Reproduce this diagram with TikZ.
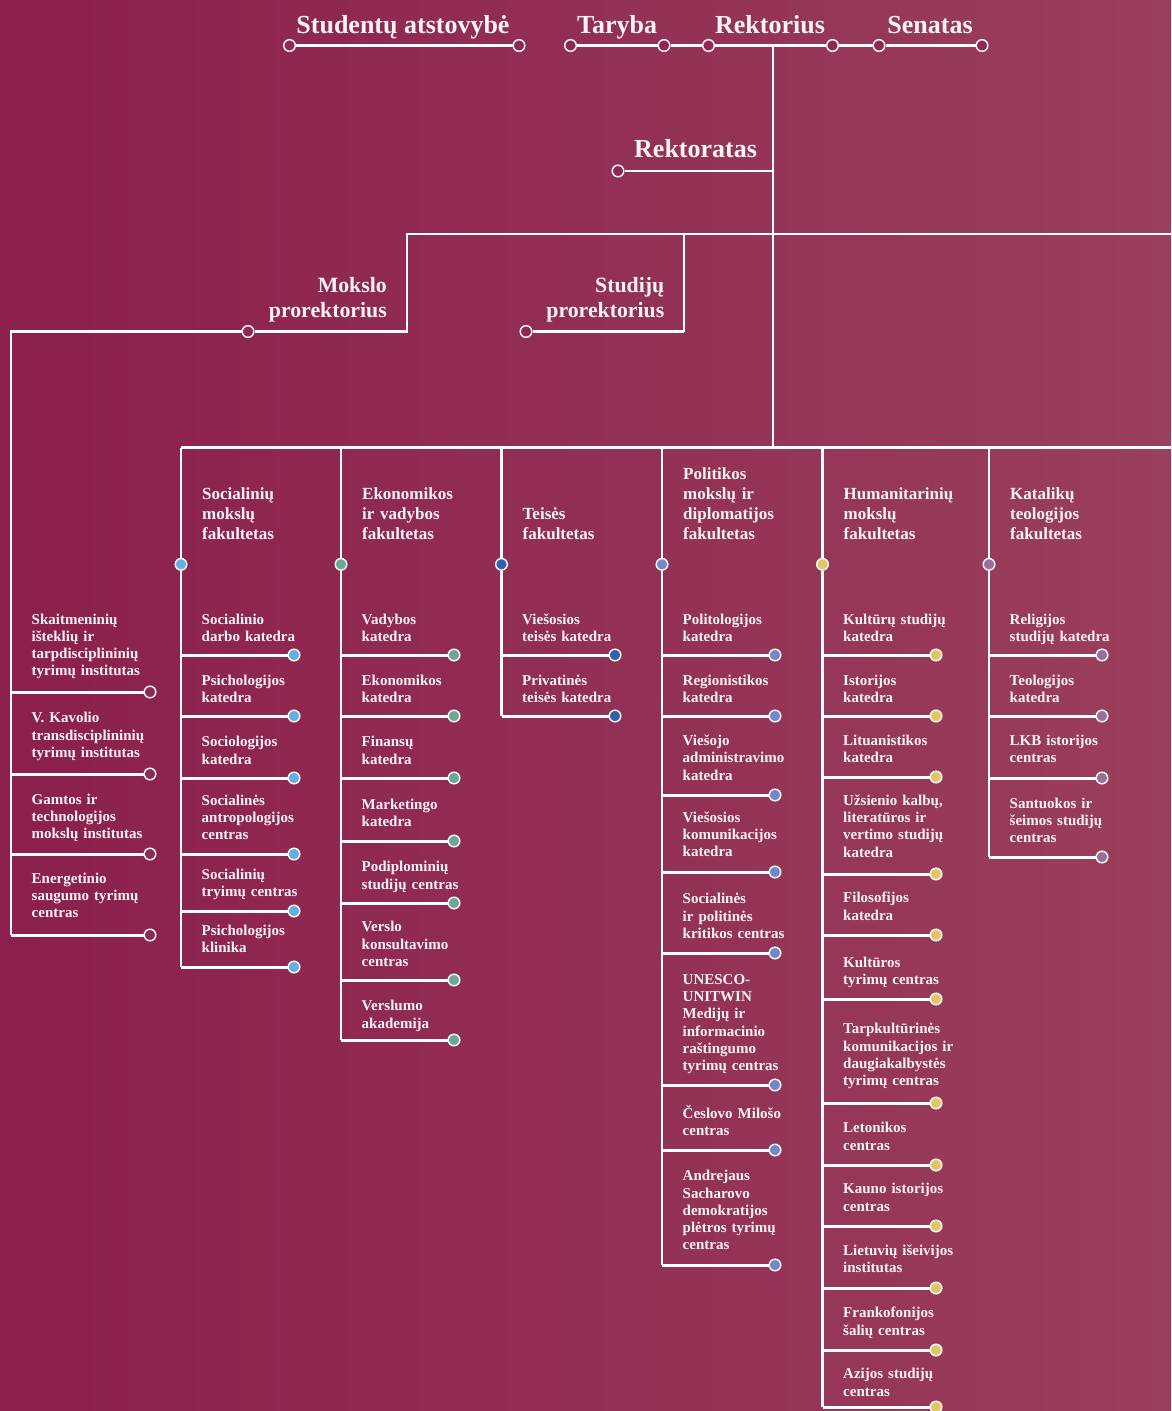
\documentclass[tikz,border=0pt]{standalone}
\usepackage{fontspec}
\setmainfont{Liberation Serif}
\definecolor{bgL}{HTML}{8B1F4D}
\definecolor{bgR}{HTML}{9A3F5C}
\definecolor{cHole}{HTML}{8F2954}
\definecolor{cText}{HTML}{FAF3F3}
\definecolor{cBlue}{HTML}{63AEE2}
\definecolor{cGreen}{HTML}{6BA993}
\definecolor{cNavy}{HTML}{2E62AC}
\definecolor{cPeri}{HTML}{7289C9}
\definecolor{cYellow}{HTML}{E2C662}
\definecolor{cPurple}{HTML}{98709A}
\tikzset{
  ln/.style={draw=white, line width=2.2pt, line join=miter},
  sepln/.style={draw=white, line width=3pt},
  dot/.style={circle, draw=white, line width=1.4pt, minimum size=11.6pt, inner sep=0pt},
  hole/.style={dot, fill=cHole},
  bluedot/.style={dot, fill=cBlue},
  greendot/.style={dot, fill=cGreen},
  navydot/.style={dot, fill=cNavy},
  peridot/.style={dot, fill=cPeri},
  yellowdot/.style={dot, fill=cYellow},
  purpledot/.style={dot, fill=cPurple},
  itemtext/.style={text=cText, font=\bfseries\fontsize{15}{17.3}\selectfont, inner sep=0pt, text width=160pt, align=left},
  factext/.style={text=cText, font=\bfseries\fontsize{17}{19.7}\selectfont, inner sep=0pt, text width=160pt, align=left},
  toptext/.style={text=cText, font=\bfseries\fontsize{26}{30}\selectfont, inner sep=0pt},
  protext/.style={text=cText, font=\bfseries\fontsize{21.8}{25}\selectfont, inner sep=0pt, text width=200pt, align=right},
}
% items: #1 id, #2 line x, #3 circle x, #4 dot style, #5 list sep/baseline/text
\newcommand{\orgitems}[5]{%
  \foreach \sy/\by/\txt [count=\i] in {#5} {
    \coordinate (s#1-\i) at (#2,\sy);
    \node[itemtext, anchor=base west] (t#1-\i) at ({#2+20.5},\by) {\txt};
    \node[#4] (k#1-\i) at (#3,\sy) {};
    \draw[sepln] (s#1-\i) -- (k#1-\i);
  }%
}
% faculty: #1 id, #2 x, #3 dot style, #4 last index, #5 title baseline, #6 title
\newcommand{\orgfac}[6]{%
  \coordinate (ftop#1) at (#2,447.5);
  \node[#3] (fd#1) at (#2,564.3) {};
  \node[factext, anchor=base west] (ft#1) at ({#2+21},#5) {#6};
  \draw[ln] (ftop#1) -- (fd#1) -- (s#1-#4);
}
\begin{document}
\begin{tikzpicture}[x=1pt, y=-1pt]
\shade[left color=bgL, right color=bgR] (0,0) rectangle (1171,1411);
\useasboundingbox (0,0) rectangle (1171,1411);

% ---- top row
\node[toptext, anchor=base] (stud) at (403,33) {Studentų atstovybė};
\node[toptext, anchor=base] (tar) at (617,33) {Taryba};
\node[toptext, anchor=base] (rek) at (770,33) {Rektorius};
\node[toptext, anchor=base] (sen) at (930,33) {Senatas};
\node[hole] (st1) at (289.5,45.5) {};
\node[hole] (st2) at (519,45.5) {};
\node[hole] (ta1) at (570.5,45.5) {};
\node[hole] (ta2) at (664,45.5) {};
\node[hole] (re1) at (708.5,45.5) {};
\node[hole] (re2) at (832.5,45.5) {};
\node[hole] (se1) at (879,45.5) {};
\node[hole] (se2) at (982,45.5) {};
\draw[sepln] (st1) -- (st2);
\draw[sepln] (ta1) -- (ta2) -- (re1) -- (re2) -- (se1) -- (se2);

% ---- rector vertical and Rektoratas
\coordinate (rj) at (773,45.5);
\coordinate (rk) at (773,171);
\coordinate (rp) at (773,234);
\coordinate (rf) at (773,447.5);
\draw[ln] (rj) -- (rk) -- (rp) -- (rf);
\node[toptext, anchor=base west] (rektt) at (634,157) {Rektoratas};
\node[hole] (rkd) at (618,171) {};
\draw[ln, line width=2.6pt] (rkd) -- (rk);

% ---- prorektoriai
\coordinate (pR) at (1171,234);
\coordinate (m1) at (407,234);
\coordinate (m2) at (407,331.5);
\coordinate (m3) at (11,331.5);
\node[hole] (mdot) at (248,331.5) {};
\node[protext, anchor=base east] (mtxt) at (387,292.5) {Mokslo\\prorektorius};
\coordinate (sv1) at (684,234);
\coordinate (sv2) at (684,331.5);
\node[hole] (sdot) at (526,331.5) {};
\node[protext, anchor=base east] (stxt) at (664.5,292.5) {Studijų\\prorektorius};
\draw[ln] (pR) -- (m1) -- (m2) -- (mdot);
\draw[ln] (sv1) -- (sv2);
\draw[sepln] (sv2) -- (sdot);

% ---- institutes (left column)
\orgitems{a}{11}{150}{hole}{
  692/624/{Skaitmeninių\\išteklių ir\\tarpdisciplininių\\tyrimų institutas},
  774/722.7/{V. Kavolio\\transdisciplininių\\tyrimų institutas},
  854/804/{Gamtos ir\\technologijos\\mokslų institutas},
  935/883.3/{Energetinio\\saugumo tyrimų\\centras}}
\draw[ln] (mdot) -- (m3) -- (sa-4);

% ---- faculties
\coordinate (fR) at (1171,447.5);
\draw[ln] (fR) -- (181,447.5);

\orgitems{b}{181}{294}{bluedot}{
  655/624/{Socialinio\\darbo katedra},
  716/685/{Psichologijos\\katedra},
  778/746.7/{Sociologijos\\katedra},
  854/805/{Socialinės\\antropologijos\\centras},
  911/879.3/{Socialinių\\tryimų centras},
  967/935.5/{Psichologijos\\klinika}}
\orgfac{b}{181}{bluedot}{6}{499.6}{Socialinių\\mokslų\\fakultetas}

\orgitems{c}{341}{454}{greendot}{
  655/624/{Vadybos\\katedra},
  716/685/{Ekonomikos\\katedra},
  778/746.7/{Finansų\\katedra},
  841/809/{Marketingo\\katedra},
  903/871.7/{Podiplominių\\studijų centras},
  980/931.7/{Verslo\\konsultavimo\\centras},
  1040/1010.7/{Verslumo\\akademija}}
\orgfac{c}{341}{greendot}{7}{499.6}{Ekonomikos\\ir vadybos\\fakultetas}

\orgitems{d}{501.5}{615}{navydot}{
  655/624/{Viešosios\\teisės katedra},
  716/685/{Privatinės\\teisės katedra}}
\orgfac{d}{501.5}{navydot}{2}{519.3}{Teisės\\fakultetas}

\orgitems{e}{662}{775}{peridot}{
  655/624/{Politologijos\\katedra},
  716/685/{Regionistikos\\katedra},
  795/745.5/{Viešojo\\administravimo\\katedra},
  872/822.3/{Viešosios\\komunikacijos\\katedra},
  953/903.7/{Socialinės\\ir politinės\\kritikos centras},
  1085/984.3/{UNESCO-\\UNITWIN\\Medijų ir\\informacinio\\raštingumo\\tyrimų centras},
  1150/1118/{Česlovo Milošo\\centras},
  1265/1180.7/{Andrejaus\\Sacharovo\\demokratijos\\plėtros tyrimų\\centras}}
\orgfac{e}{662}{peridot}{8}{479.9}{Politikos\\mokslų ir\\diplomatijos\\fakultetas}

\orgitems{f}{822.5}{936}{yellowdot}{
  655/624/{Kultūrų studijų\\katedra},
  716/685/{Istorijos\\katedra},
  777/745.5/{Lituanistikos\\katedra},
  874/805.3/{Užsienio kalbų,\\literatūros ir\\vertimo studijų\\katedra},
  935/902.7/{Filosofijos\\katedra},
  999/967/{Kultūros\\tyrimų centras},
  1103/1033.7/{Tarpkultūrinės\\komunikacijos ir\\daugiakalbystės\\tyrimų centras},
  1165/1132.7/{Letonikos\\centras},
  1226/1193.7/{Kauno istorijos\\centras},
  1288/1255.3/{Lietuvių išeivijos\\institutas},
  1350/1317.7/{Frankofonijos\\šalių centras},
  1407/1378.7/{Azijos studijų\\centras}}
\orgfac{f}{822.5}{yellowdot}{12}{499.6}{Humanitarinių\\mokslų\\fakultetas}

\orgitems{g}{989}{1102}{purpledot}{
  655/624/{Religijos\\studijų katedra},
  716/685/{Teologijos\\katedra},
  778/745.5/{LKB istorijos\\centras},
  857/808.3/{Santuokos ir\\šeimos studijų\\centras}}
\orgfac{g}{989}{purpledot}{4}{499.6}{Katalikų\\teologijos\\fakultetas}
\end{tikzpicture}
\end{document}
